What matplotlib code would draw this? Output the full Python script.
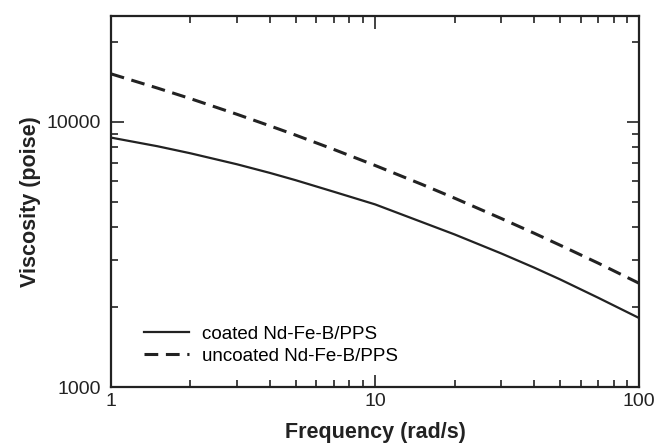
import matplotlib
matplotlib.use("Agg")
import matplotlib.pyplot as plt
from matplotlib.ticker import LogLocator, NullFormatter, FixedLocator, FixedFormatter

plt.rcParams['font.family'] = ['Liberation Sans', 'DejaVu Sans']

freq = [1, 1.5, 2, 3, 4, 5, 7, 10, 15, 20, 30, 40, 50, 70, 100]
coated = [8710, 8080, 7600, 6910, 6410, 6020, 5440, 4880, 4190, 3760, 3190, 2820, 2550, 2170, 1820]
uncoated = [15140, 13380, 12210, 10660, 9640, 8900, 7850, 6840, 5810, 5150, 4320, 3800, 3430, 2930, 2460]

x_ticks = [1, 10, 100]
x_tick_labels = ["1", "10", "100"]
y_ticks = [1000, 10000]
y_tick_labels = ["1000", "10000"]

fig = plt.figure(figsize=(6.68, 4.44), dpi=100)
ax = fig.add_axes([0.166, 0.128, 0.791, 0.836])

c = '#222222'
ax.plot(freq, coated, color=c, lw=1.6, label='coated Nd-Fe-B/PPS')
ax.plot(freq, uncoated, color=c, lw=2.2, dashes=(4.5, 2.5), label='uncoated Nd-Fe-B/PPS')

ax.set_xscale('log')
ax.set_yscale('log')
ax.set_xlim(1, 100)
ax.set_ylim(1000, 25000)

ax.xaxis.set_major_locator(FixedLocator(x_ticks))
ax.xaxis.set_major_formatter(FixedFormatter(x_tick_labels))
ax.yaxis.set_major_locator(FixedLocator(y_ticks))
ax.yaxis.set_major_formatter(FixedFormatter(y_tick_labels))
ax.xaxis.set_minor_locator(LogLocator(base=10, subs=range(2, 10)))
ax.yaxis.set_minor_locator(LogLocator(base=10, subs=range(2, 10)))
ax.xaxis.set_minor_formatter(NullFormatter())
ax.yaxis.set_minor_formatter(NullFormatter())

ax.tick_params(which='both', direction='in', top=True, right=True, colors=c,
               labelsize=14, width=1.2, labelcolor='#222222')
ax.tick_params(which='major', length=9)
ax.tick_params(axis='y', which='major', pad=7)
ax.tick_params(axis='x', which='major', pad=4)
ax.tick_params(which='minor', length=5)
for s in ax.spines.values():
    s.set_linewidth(1.6)
    s.set_color(c)

ax.set_xlabel('Frequency (rad/s)', fontsize=15.5, fontweight='bold', color=c, labelpad=9)
ax.set_ylabel('Viscosity (poise)', fontsize=15.5, fontweight='bold', color=c, labelpad=4)

ax.legend(loc='lower left', bbox_to_anchor=(0.045, 0.035), frameon=False, fontsize=13.5,
          handlelength=2.4, handletextpad=0.7, labelspacing=0.25, borderpad=0)

fig.savefig('out.png', dpi=100)
